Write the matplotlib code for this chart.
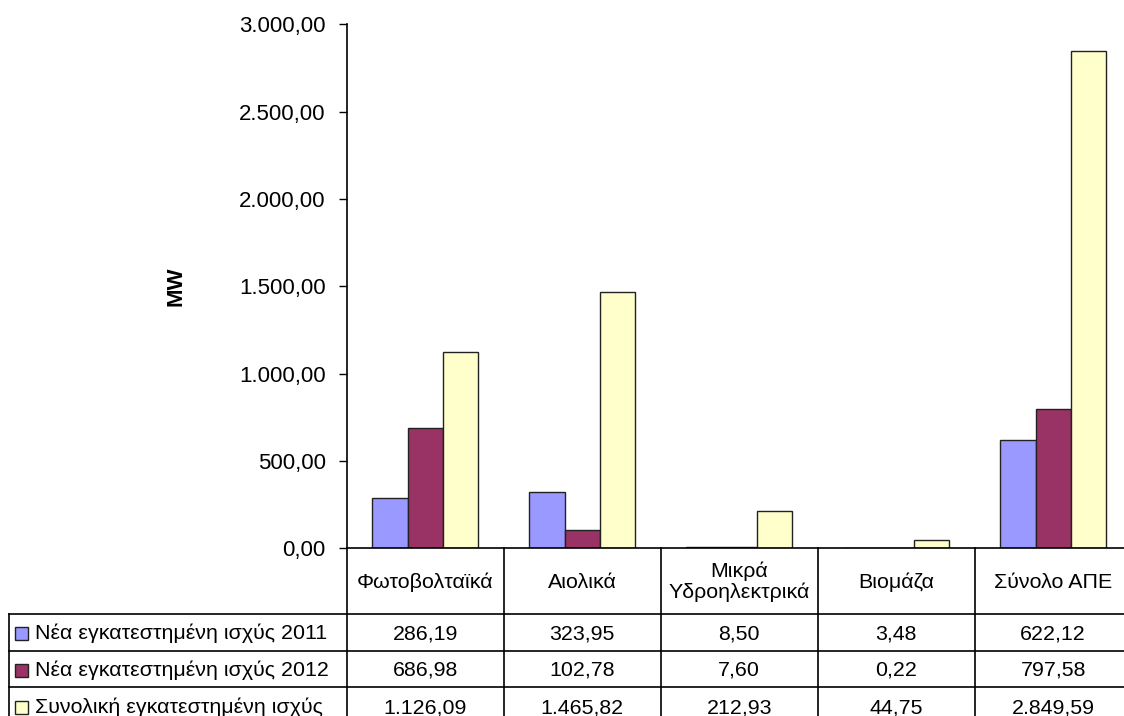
import matplotlib.pyplot as plt
import matplotlib.transforms as mtransforms
from matplotlib.ticker import FuncFormatter
import numpy as np

plt.rcParams["font.family"] = ["Liberation Sans", "DejaVu Sans"]

# Data
categories = ["Φωτοβολταϊκά", "Αιολικά", "Μικρά\nΥδροηλεκτρικά", "Βιομάζα", "Σύνολο ΑΠΕ"]
series_names = [
    "Νέα εγκατεστημένη ισχύς 2011",
    "Νέα εγκατεστημένη ισχύς 2012",
    "Συνολική εγκατεστημένη ισχύς",
]
new_2011 = [286.19, 323.95, 8.50, 3.48, 622.12]
new_2012 = [686.98, 102.78, 7.60, 0.22, 797.58]
total = [1126.09, 1465.82, 212.93, 44.75, 2849.59]
colors = ["#9999FF", "#993366", "#FFFFCC"]

FS = 16
FS_TAB = 15.4
W, H = 1124, 716
AX_LEFT, AX_TOP, AX_BOTTOM = 346.7, 24.3, 548.3
COL_W = 157.0
ROW_LINES = [614, 651, 687]


def gr_fmt(v, decimals=2):
    s = f"{v:,.{decimals}f}"
    return s.replace(",", "X").replace(".", ",").replace("X", ".")


fig = plt.figure(figsize=(W / 100, H / 100), dpi=100)
ax = fig.add_axes([AX_LEFT / W, 1 - AX_BOTTOM / H, 5 * COL_W / W, (AX_BOTTOM - AX_TOP) / H])

# pixel overlay for the data table
tab = fig.add_axes([0, 0, 1, 1], zorder=-1)
tab.set_xlim(0, W)
tab.set_ylim(H, 0)
tab.axis("off")

series = [new_2011, new_2012, total]
x = np.arange(len(categories))
bw = 0.225
for i, (vals, c) in enumerate(zip(series, colors)):
    ax.bar(x + (i - 1) * bw, vals, bw, color=c, edgecolor="#222222", linewidth=1.0)

ax.set_xlim(-0.5, len(categories) - 0.5)
ax.set_ylim(0, 3000)
ax.set_yticks(np.arange(0, 3001, 500))
ax.yaxis.set_major_formatter(FuncFormatter(lambda v, p: gr_fmt(v)))
ax.tick_params(axis="y", direction="out", length=6, width=1, labelsize=FS, pad=9)
ax.tick_params(axis="x", bottom=False, labelbottom=False)
for s in ["top", "right"]:
    ax.spines[s].set_visible(False)
for s in ["left", "bottom"]:
    ax.spines[s].set_linewidth(1.2)
ax.set_ylabel("MW", fontsize=FS, fontweight="bold", labelpad=38)
ax.patch.set_alpha(0)

# table: x in category units, y in pixels
tr = mtransforms.blended_transform_factory(ax.transData, tab.transData)
lkw = dict(color="black", linewidth=1.2, clip_on=False)
for k in range(len(categories) + 1):
    tab.plot([k - 0.5, k - 0.5], [AX_BOTTOM, H], transform=tr, **lkw)
tab.plot([9, 9], [ROW_LINES[0], H], **lkw)
for yl in ROW_LINES:
    tab.plot([9, W], [yl, yl], **lkw)

for k, cat in enumerate(categories):
    tab.text(k, (AX_BOTTOM + ROW_LINES[0]) / 2 + 1, cat, transform=tr,
             ha="center", va="center", fontsize=FS_TAB, linespacing=1.1)

row_h = ROW_LINES[1] - ROW_LINES[0]
for r, (name, vals, c) in enumerate(zip(series_names, series, colors)):
    yc = ROW_LINES[0] + r * row_h + row_h / 2 + 1
    tab.add_patch(plt.Rectangle((15, yc - 6.5), 13, 13, facecolor=c,
                                edgecolor="#222222", linewidth=1.0))
    tab.text(35, yc, name, ha="left", va="center", fontsize=FS_TAB)
    for k, v in enumerate(vals):
        tab.text(k, yc, gr_fmt(v), transform=tr, ha="center", va="center", fontsize=FS_TAB)

fig.savefig("out.png", dpi=100)
